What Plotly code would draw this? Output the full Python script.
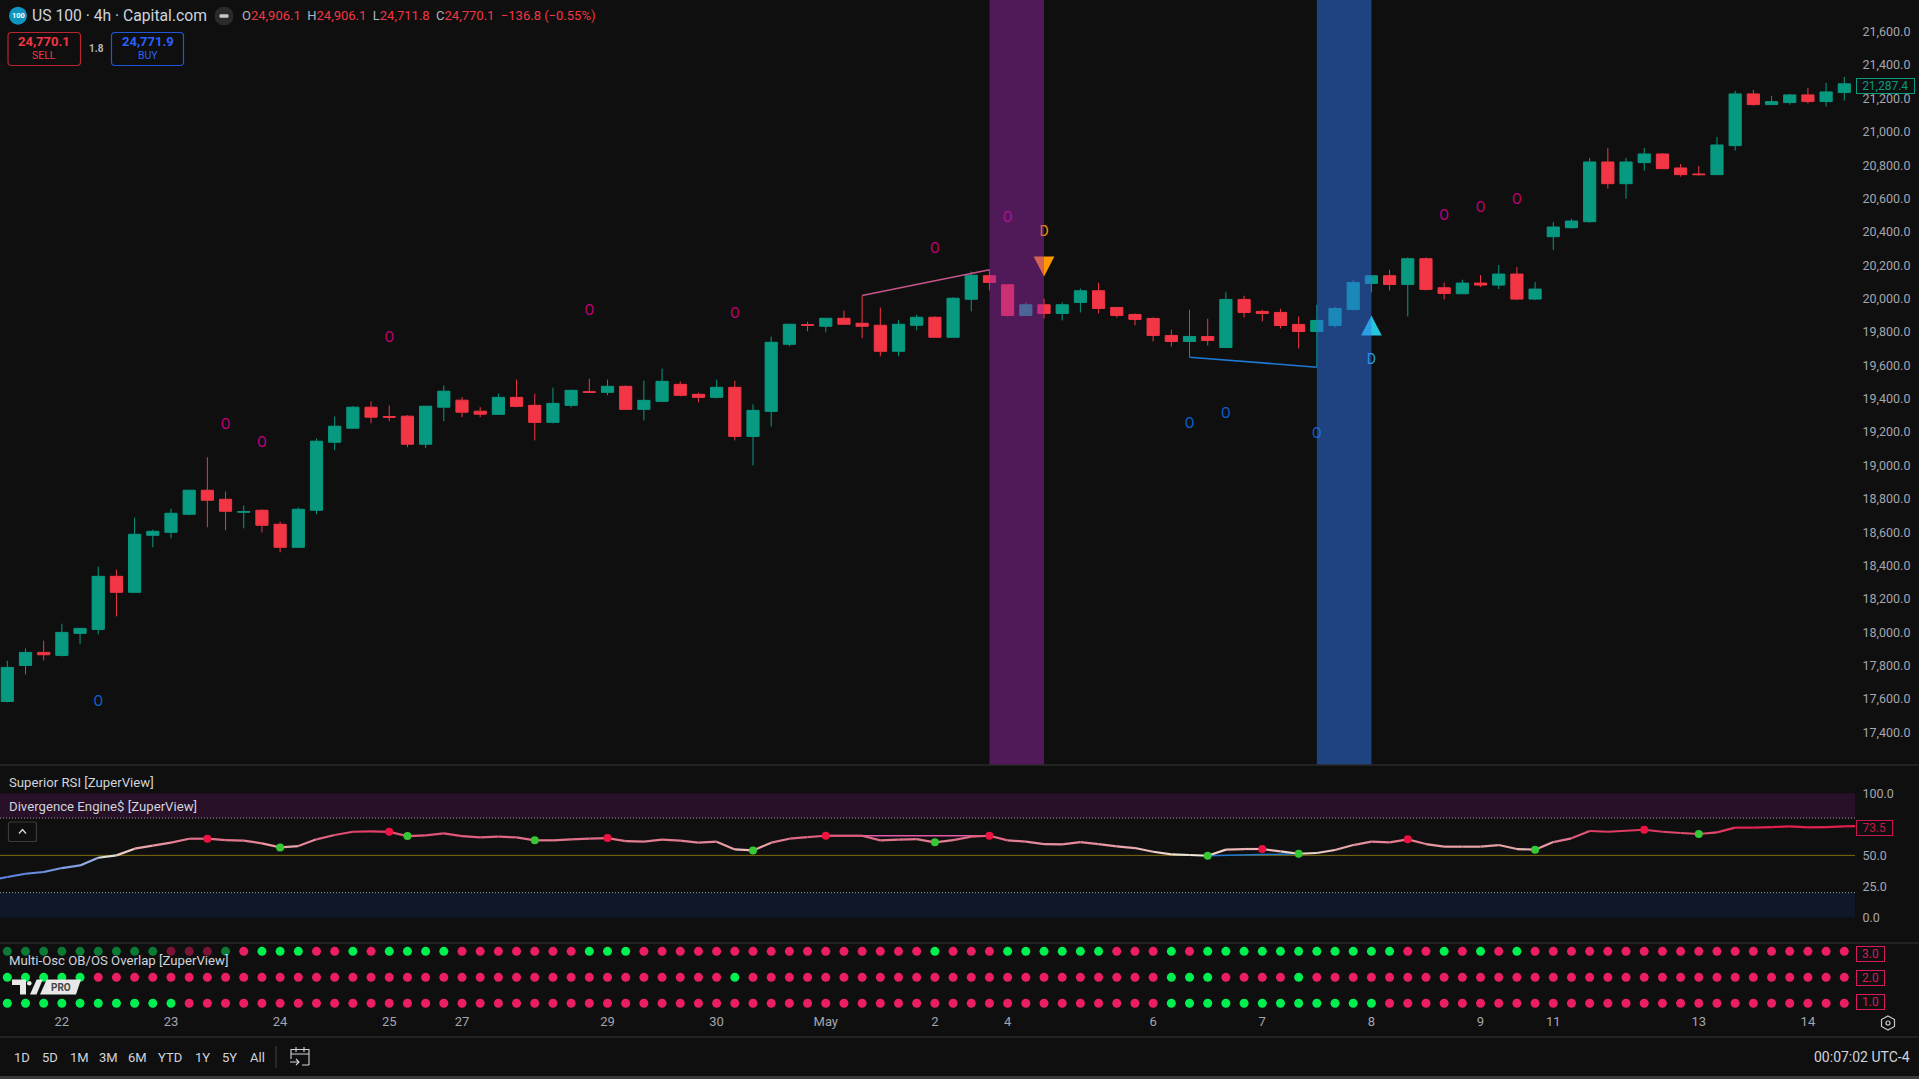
import plotly.graph_objects as go

W, H = 1919, 1079
BG = "#0f0f0f"
UP = "#089981"
DOWN = "#f23645"

# ---------- data ----------
opens = [17585,17801,17879,17861,17993,18017,18335,18239,18581,18599,18707,18851,18797,18719,18731,18647,18509,18731,19139,19223,
         19349,19293,19295,19127,19349,19391,19325,19306,19408,19360,19258,19360,19442,19438,19474,19336,19384,19486,19426,19408,
         19468,19174,19324,19726,19844,19834,19882,19852,19840,19684,19840,19888,19768,19996,20137,20083,19899,19963,19911,19977,
         20047,19947,19905,19881,19779,19743,19773,19707,19995,19923,19917,19845,19803,19839,19935,20091,20137,20085,20239,20065,
         20029,20093,20081,20147,19997,20371,20425,20461,20819,20689,20815,20867,20783,20747,20743,20917,21227,21163,21175,21221,
         21181,21235]
highs = [17829,17903,17949,18051,18023,18393,18375,18687,18615,18741,18855,19049,18843,18759,18737,18663,18747,19161,19293,19355,
         19383,19359,19301,19355,19479,19409,19349,19430,19514,19430,19466,19454,19520,19514,19480,19508,19580,19504,19436,19514,
         19508,19366,19772,19850,19862,19882,19928,20018,19946,19870,19904,19894,20008,20162,20173,20083,19977,19999,19977,20061,
         20095,19947,19911,19887,19813,19933,19879,20041,20017,19933,19939,19893,19963,19951,20113,20137,20173,20247,20247,20095,
         20113,20141,20201,20189,20099,20459,20479,20843,20903,20843,20903,20873,20807,20795,20969,21245,21251,21215,21227,21263,
         21293,21329]
lows = [17579,17747,17831,17855,17927,17987,18095,18239,18509,18563,18701,18629,18611,18623,18599,18479,18509,18707,19091,19223,
        19253,19265,19109,19103,19265,19289,19289,19306,19348,19150,19252,19348,19438,19420,19336,19270,19378,19414,19378,19402,
        19150,19000,19234,19714,19804,19798,19846,19762,19654,19654,19810,19768,19768,19924,20049,19893,19899,19881,19869,19917,
        19911,19887,19839,19743,19713,19649,19719,19707,19887,19863,19821,19701,19589,19827,19929,20037,20049,19893,20049,19995,
        20029,20069,20057,19991,19991,20291,20419,20455,20659,20599,20767,20779,20731,20737,20743,20887,21157,21163,21163,21169,
        21151,21187]
closes = [17789,17879,17865,17999,18023,18335,18239,18587,18605,18713,18851,18791,18725,18723,18641,18509,18737,19145,19235,19349,
          19289,19289,19127,19355,19445,19319,19307,19408,19354,19258,19372,19450,19438,19474,19336,19390,19504,19420,19408,19468,
          19174,19330,19738,19846,19840,19882,19846,19834,19684,19846,19888,19768,20002,20140,20097,19899,19963,19911,19963,20047,
          19941,19899,19875,19779,19743,19773,19749,19995,19917,19911,19839,19803,19869,19941,20097,20137,20085,20239,20055,20031,
          20093,20081,20147,19997,20057,20429,20465,20819,20689,20819,20867,20779,20743,20743,20921,21227,21163,21181,21221,21181,
          21239,21287.4]
rsi = [32.6,35.2,36.6,39.8,41.9,48.1,50.0,55.4,57.8,60.2,63.4,63.4,62.3,61.8,59.7,56.4,57.5,62.9,66.4,69.0,
       69.3,68.9,65.5,66.1,67.7,65.5,64.5,65.0,64.5,62.1,62.1,62.9,63.4,63.9,61.5,61.0,62.6,61.8,60.2,61.0,
       54.8,54.0,60.2,63.4,64.7,65.8,65.8,65.8,62.1,62.6,63.1,60.5,62.3,65.0,65.8,62.1,61.0,59.1,58.8,60.7,
       59.1,57.2,55.9,52.9,50.8,50.3,49.7,54.6,55.1,55.1,53.2,51.3,51.9,54.3,58.3,61.0,60.5,62.9,59.1,57.0,
       57.0,57.0,58.3,55.1,54.6,60.7,63.7,69.6,69.0,69.8,70.6,69.0,68.0,67.2,68.5,72.3,72.3,72.8,73.3,72.5,
       72.8,73.3]
rsi_before_first = 31.5
rsi_last = 73.5
rsi_pivot_high = [11, 21, 33, 45, 54, 69, 77, 90]
rsi_pivot_low = [15, 22, 29, 41, 51, 66, 71, 84, 93]

osc3_green = [0,1,2,3,4,5,6,7,8,12,14,15,16,19,21,22,23,24,32,33,34,51,55,56,57,58,59,60,64,66,67,68,69,70,71,72,73,74,75,76,79,81,83]
osc2_green = [0,1,2,3,4,40,64,65,66,71]
osc1_green = [0,1,2,3,4,5,6,7,8,9,64,65,66,67,68,69,70,71,72,73,74,75]
osc3_dimmed = list(range(13))

pink_o_x = [12,14,21,32,40,51,55,79,81,83]
pink_o_y = [19241,19133,19758,19920,19906,20294,20481,20491,20539,20587]
blue_o_x = [5,65,67,72]
blue_o_y = [17581,19245,19305,19185]

bear_div_x = [47,54]
bear_div_y = [20018,20173]
bull_div_x = [65,72]
bull_div_y = [19649,19589]
rsi_bear_div = [45,54]
rsi_bull_div = [66,71]

sell_signal = (57, 20253, 20133, 20395)   # bar, triangle base, apex, letter
buy_signal = (75, 19779, 19899, 19627)
purple_zone = (54, 57)
blue_zone = (72, 75)

price_ticks = [17400 + 200*k for k in range(22)]
rsi_ticks = [0, 25, 50, 100]
date_pos = [3,9,15,21,25,33,39,45,51,55,63,69,75,81,85,93,99]
date_lbl = ["22","23","24","25","27","29","30","May","2","4","6","7","8","9","11","13","14"]
range_lbl = ["1D","5D","1M","3M","6M","YTD","1Y","5Y","All"]
range_pos = [22,50,79,108,137,170,202,229.4,257]

# ---------- layout helpers ----------
PLOT_R = 1855
def px(x): return x / W
def py(y): return 1 - y / H
XR = [(0 - 7.3) / 18.188, (PLOT_R - 7.3) / 18.188]
FONT = "Roboto"
TXT = "#d1d4dc"
AX = "#a3a6af"

fig = go.Figure()

fig.add_trace(go.Candlestick(
    x=list(range(len(opens))), open=opens, high=highs, low=lows, close=closes,
    increasing=dict(line=dict(color=UP, width=1), fillcolor=UP),
    decreasing=dict(line=dict(color=DOWN, width=1), fillcolor=DOWN),
    whiskerwidth=0, xaxis="x", yaxis="y", showlegend=False, hoverinfo="skip"))

# divergence lines
fig.add_trace(go.Scatter(x=bear_div_x, y=bear_div_y, mode="lines", line=dict(color="#c4568e", width=1.5), xaxis="x", yaxis="y", hoverinfo="skip"))
fig.add_trace(go.Scatter(x=bull_div_x, y=bull_div_y, mode="lines", line=dict(color="#1f78d1", width=1.5), xaxis="x", yaxis="y", hoverinfo="skip"))

# O / D letters
fig.add_trace(go.Scatter(x=pink_o_x, y=pink_o_y, mode="text", text=["O"]*len(pink_o_x), textfont=dict(family=FONT, size=14, color="#c2007a"), xaxis="x", yaxis="y", hoverinfo="skip"))
fig.add_trace(go.Scatter(x=blue_o_x, y=blue_o_y, mode="text", text=["O"]*len(blue_o_x), textfont=dict(family=FONT, size=14, color="#0a62d0"), xaxis="x", yaxis="y", hoverinfo="skip"))
fig.add_trace(go.Scatter(x=[sell_signal[0]], y=[sell_signal[3]], mode="text", text=["D"], textfont=dict(family=FONT, size=14, color="#ff9800"), xaxis="x", yaxis="y", hoverinfo="skip"))
fig.add_trace(go.Scatter(x=[buy_signal[0]], y=[buy_signal[3]], mode="text", text=["D"], textfont=dict(family=FONT, size=14, color="#26a6e0"), xaxis="x", yaxis="y", hoverinfo="skip"))

# signal triangles
HW = 0.57
for (b, base, apex, _), col in ((sell_signal, "#ff9800"), (buy_signal, "#26c6da")):
    fig.add_trace(go.Scatter(x=[b-HW, b+HW, b, b-HW], y=[base, base, apex, base], mode="lines", fill="toself",
                             fillcolor=col, line=dict(width=0, color=col), xaxis="x", yaxis="y", hoverinfo="skip"))

# RSI line with value-driven gradient
STOPS = [(30,(80,120,225)),(45,(150,175,230)),(50,(240,235,215)),(56,(235,170,175)),(63,(225,115,140)),(74,(225,25,75))]
def rsi_color(v):
    if v <= STOPS[0][0]: return "rgb(%d,%d,%d)" % STOPS[0][1]
    for (a, ca), (b, cb) in zip(STOPS, STOPS[1:]):
        if v <= b:
            t = (v-a)/(b-a)
            return "rgb(%d,%d,%d)" % tuple(int(ca[k]+(cb[k]-ca[k])*t) for k in range(3))
    return "rgb(%d,%d,%d)" % STOPS[-1][1]

fig.add_trace(go.Scatter(x=rsi_bear_div, y=[rsi[i] for i in rsi_bear_div], mode="lines", line=dict(color="#e458a8", width=1.5), xaxis="x2", yaxis="y2", hoverinfo="skip"))
fig.add_trace(go.Scatter(x=rsi_bull_div, y=[rsi[i] for i in rsi_bull_div], mode="lines", line=dict(color="#1f78d1", width=1.5), xaxis="x2", yaxis="y2", hoverinfo="skip"))
fig.add_trace(go.Scatter(x=[XR[0], 0], y=[rsi_before_first, rsi[0]], mode="lines", line=dict(color=rsi_color(rsi[0]), width=2.2), xaxis="x2", yaxis="y2", hoverinfo="skip"))
for i in range(len(rsi)-1):
    fig.add_trace(go.Scatter(x=[i, i+1], y=[rsi[i], rsi[i+1]], mode="lines",
                             line=dict(color=rsi_color((rsi[i]+rsi[i+1])/2), width=2.2),
                             xaxis="x2", yaxis="y2", hoverinfo="skip"))
fig.add_trace(go.Scatter(x=[101, XR[1]], y=[rsi[101], rsi_last], mode="lines", line=dict(color=rsi_color(rsi_last), width=2.2), xaxis="x2", yaxis="y2", hoverinfo="skip"))
fig.add_trace(go.Scatter(x=rsi_pivot_high, y=[rsi[i] for i in rsi_pivot_high], mode="markers", marker=dict(size=8, color="#ee1243"), xaxis="x2", yaxis="y2", hoverinfo="skip"))
fig.add_trace(go.Scatter(x=rsi_pivot_low, y=[rsi[i] for i in rsi_pivot_low], mode="markers", marker=dict(size=8, color="#35c935"), xaxis="x2", yaxis="y2", hoverinfo="skip"))

# oscillator dot rows
GREEN, RED, DGREEN, DRED = "#00f050", "#ec1e62", "#0a7a35", "#7c1438"
for level, greens in ((3, osc3_green), (2, osc2_green), (1, osc1_green)):
    xs = list(range(len(opens)))
    cols = []
    for i in xs:
        g = i in greens
        dim = level == 3 and i in osc3_dimmed
        cols.append((DGREEN if g else DRED) if dim else (GREEN if g else RED))
    fig.add_trace(go.Scatter(x=xs, y=[level]*len(xs), mode="markers", marker=dict(size=9, color=cols), xaxis="x3", yaxis="y3", hoverinfo="skip"))

# ---------- shapes ----------
shapes = []
def rect(x0, y0, x1, y1, color, layer="below", xref="x", yref="y"):
    shapes.append(dict(type="rect", xref=xref, yref=yref, x0=x0, x1=x1, y0=y0, y1=y1, fillcolor=color, line=dict(width=0), layer=layer))
def hline(y, color, dash="solid", xref="x2", yref="y2", w=1):
    shapes.append(dict(type="line", xref=xref, yref=yref, x0=XR[0], x1=XR[1], y0=y, y1=y, line=dict(color=color, width=w, dash=dash), layer="below"))

rect(purple_zone[0], 17000, purple_zone[1], 22000, "rgba(156,39,176,0.46)", "above")
rect(blue_zone[0], 17000, blue_zone[1], 22000, "rgba(47,117,241,0.5)", "above")
rect(XR[0], 80, XR[1], 100, "#271028", xref="x2", yref="y2")
rect(XR[0], 0, XR[1], 20, "#0e1828", xref="x2", yref="y2")
hline(80, "#a0a0a0", "1px,2px")
hline(20, "#a0a0a0", "1px,2px")
hline(50, "#7d6c10")

def pline(x0, y0, x1, y1, color, w=1.5):
    shapes.append(dict(type="line", xref="paper", yref="paper", x0=px(x0), x1=px(x1), y0=py(y0), y1=py(y1),
                       line=dict(color=color, width=w), layer="above"))
for yy in (765, 943, 1037):
    pline(0, yy, W, yy, "#2a2a2a", 1.5)
shapes.append(dict(type="rect", xref="paper", yref="paper", x0=0, x1=1, y0=0, y1=py(1076), fillcolor="#3a3a3a", line=dict(width=0), layer="above"))
pline(276, 1046, 276, 1068, "#3a3a3a", 1.2)

def ppath(pts_d, line=None, fill=None, w=1.2):
    shapes.append(dict(type="path", xref="paper", yref="paper", path=pts_d,
                       line=dict(color=line or "rgba(0,0,0,0)", width=w if line else 0),
                       fillcolor=fill or "rgba(0,0,0,0)", layer="above"))
def P(cmds):
    out = []
    for c in cmds:
        if len(c) == 3:
            out.append(f"{c[0]} {px(c[1]):.5f} {py(c[2]):.5f}")
        else:
            out.append(c[0])
    return " ".join(out)
def rrect(x0, y0, x1, y1, r):
    return (
        f"M {px(x0+r):.5f} {py(y0):.5f} L {px(x1-r):.5f} {py(y0):.5f} Q {px(x1):.5f} {py(y0):.5f} {px(x1):.5f} {py(y0+r):.5f} "
        f"L {px(x1):.5f} {py(y1-r):.5f} Q {px(x1):.5f} {py(y1):.5f} {px(x1-r):.5f} {py(y1):.5f} "
        f"L {px(x0+r):.5f} {py(y1):.5f} Q {px(x0):.5f} {py(y1):.5f} {px(x0):.5f} {py(y1-r):.5f} "
        f"L {px(x0):.5f} {py(y0+r):.5f} Q {px(x0):.5f} {py(y0):.5f} {px(x0+r):.5f} {py(y0):.5f} Z")

# sell / buy boxes
ppath(rrect(8, 32.5, 80.5, 65.5, 3.5), line="#b8242f")
ppath(rrect(111.5, 32.5, 183.5, 65.5, 3.5), line="#1f57d8")
# chevron button
ppath(rrect(8.5, 822, 36.5, 841.5, 2), line="#3a3a3a")
ppath(P([("M",19,833.5),("L",22.5,829.5),("L",26,833.5)]), line="#d1d4dc", w=1.4)
# header icons
def circle(cx, cy, r, fill):
    shapes.append(dict(type="circle", xref="paper", yref="paper", x0=px(cx-r), x1=px(cx+r), y0=py(cy+r), y1=py(cy-r),
                       fillcolor=fill, line=dict(width=0), layer="above"))
circle(18, 15.7, 9, "#0e96c0")
circle(224, 16, 9.5, "#2a2a2a")
ppath(rrect(219.5, 14.2, 228.5, 17.8, 1.2), fill="#c8c8c8")
# TV PRO logo
LOGO = "#e8e8e8"
ppath(P([("M",12,979.5),("L",26,979.5),("L",26,994.5),("L",20,994.5),("L",20,985),("L",12,985),("Z",)]), fill=LOGO)
circle(29.3, 983.3, 2.3, LOGO)
ppath(P([("M",30,994.5),("L",36.7,979.5),("L",42.7,979.5),("L",36.5,994.5),("Z",)]), fill=LOGO)
ppath(P([("M",46.7,979.5),("L",81,979.5),("L",76,994.5),("L",40,994.5),("Z",)]), fill=LOGO)
# calendar icon
ppath(P([("M",309,1065),("L",309,1049.5),("L",291,1049.5),("L",291,1059),("M",291,1054),("L",309,1054),
         ("M",296,1047),("L",296,1052),("M",304,1047),("L",304,1052),("M",290,1062),("L",299,1062),("M",296,1059),("L",299,1062),("L",296,1065),("M",302,1065),("L",309,1065)]),
      line="#d1d4dc", w=1.1)
# settings hexagon
ppath(P([("M",1888,1016),("L",1894.5,1019.5),("L",1894.5,1026.5),("L",1888,1030),("L",1881.5,1026.5),("L",1881.5,1019.5),("Z",)]), line="#c8c8c8", w=1.2)
shapes.append(dict(type="circle", xref="paper", yref="paper", x0=px(1886), x1=px(1890), y0=py(1025), y1=py(1021), line=dict(color="#c8c8c8", width=1.2), layer="above"))

# ---------- annotations ----------
anns = []
def text(x, y, s, size=13, color=TXT, anchor="left", weight=None):
    if weight:
        s = f"<b>{s}</b>"
    anns.append(dict(xref="paper", yref="paper", x=px(x), y=py(y), text=s, showarrow=False, xanchor=anchor, yanchor="middle",
                     font=dict(family=FONT, size=size, color=color), borderpad=0))
def tag(x0, x1, yc, h, s, color, size=12):
    anns.append(dict(xref="paper", yref="paper", x=px(x0), y=py(yc), text=s, showarrow=False, xanchor="left", yanchor="middle",
                     font=dict(family=FONT, size=size, color=color), bgcolor=BG, bordercolor=color, borderwidth=1,
                     borderpad=0, width=x1-x0-2, height=h-2, align="center", valign="middle"))

text(31, 16, "US 100 · 4h · Capital.com", 15.7)
text(18, 16, "100", 7.5, "#ffffff", "center", True)
R = DOWN
G = "#b2b5be"
ohlc = (f'<span style="color:{G}">O</span><span style="color:{R}">24,906.1</span> '
        f'<span style="color:{G}"> H</span><span style="color:{R}">24,906.1</span> '
        f'<span style="color:{G}"> L</span><span style="color:{R}">24,711.8</span> '
        f'<span style="color:{G}"> C</span><span style="color:{R}">24,770.1</span> '
        f'<span style="color:{R}"> −136.8 (−0.55%)</span>')
text(241, 16, ohlc, 13)
text(44, 41.5, "24,770.1", 13, DOWN, "center", True)
text(44, 55.5, "SELL", 10.5, DOWN, "center")
text(96, 48.5, "1.8", 10, "#b2b5be", "center", True)
text(147.5, 41.5, "24,771.9", 13, "#2962ff", "center", True)
text(147.5, 55.5, "BUY", 10.5, "#2962ff", "center")
text(7.7, 782.5, "Superior RSI [ZuperView]", 13.2)
text(7.7, 806, "Divergence Engine$ [ZuperView]", 13.2)
text(7.7, 960, "Multi-Osc OB/OS Overlap [ZuperView]", 13.2)
text(61, 987, "PRO", 10, "#444444", "center", True)
for lbl, xpos in zip(range_lbl, range_pos):
    text(xpos, 1057, lbl, 13, TXT, "center")
text(1911, 1057, "00:07:02 UTC-4", 14, TXT, "right")
tag(1855.5, 1914, 85.5, 16, "21,287.4", "#089981")
tag(1856, 1892.5, 827.5, 15.5, "73.5", "#c2184b")
tag(1856, 1885, 953.5, 15.5, "3.0", "#d81b60")
tag(1856, 1885, 977.5, 15.5, "2.0", "#d81b60")
tag(1856, 1885, 1001.5, 15.5, "1.0", "#d81b60")

# ---------- axes ----------
def yax(domain, rng, ticks, fmt, anchor):
    return dict(domain=domain, range=rng, side="right", anchor=anchor, tickvals=ticks, tickformat=fmt,
                showgrid=False, zeroline=False, showline=False, ticks="outside", ticklen=4, tickcolor=BG, tickwidth=1,
                tickfont=dict(family=FONT, size=12.5, color=AX), fixedrange=True)
def xax(domain_anchor, labels=False):
    d = dict(domain=[0, PLOT_R/W], range=XR, anchor=domain_anchor, showgrid=False, zeroline=False, showline=False,
             showticklabels=labels, rangeslider=dict(visible=False), fixedrange=True)
    if labels:
        d.update(anchor="free", position=py(1006.5), tickvals=date_pos, ticktext=date_lbl, ticks="outside", ticklen=3, tickcolor=BG,
                 tickfont=dict(family=FONT, size=13, color=AX))
    else:
        d.update(ticks="")
    return d

price_top, price_bot = 21790, 17204
rsi_top, rsi_bot = 122.7, -20.5
fig.update_layout(
    width=W, height=H, margin=dict(l=0, r=0, t=0, b=0), paper_bgcolor=BG, plot_bgcolor=BG, showlegend=False,
    boxgap=0.33, boxgroupgap=0, hovermode=False, dragmode=False,
    xaxis=xax("y"), xaxis2=xax("y2"), xaxis3=xax("y3", True),
    yaxis=yax([py(765), 1], [price_bot, price_top], price_ticks, ",.1f", "x"),
    yaxis2=yax([py(943), py(765)], [rsi_bot, rsi_top], rsi_ticks, ".1f", "x2"),
    yaxis3=dict(domain=[py(1012), py(943)], range=[0.665, 3.32], anchor="x3", side="right", showticklabels=False,
                showgrid=False, zeroline=False, showline=False, ticks="", fixedrange=True),
    shapes=shapes, annotations=anns,
)

fig.write_html("out.html", config={"displayModeBar": False},
               post_script="document.body.style.margin='0';document.body.style.background='#0f0f0f';document.body.style.overflow='hidden';")
